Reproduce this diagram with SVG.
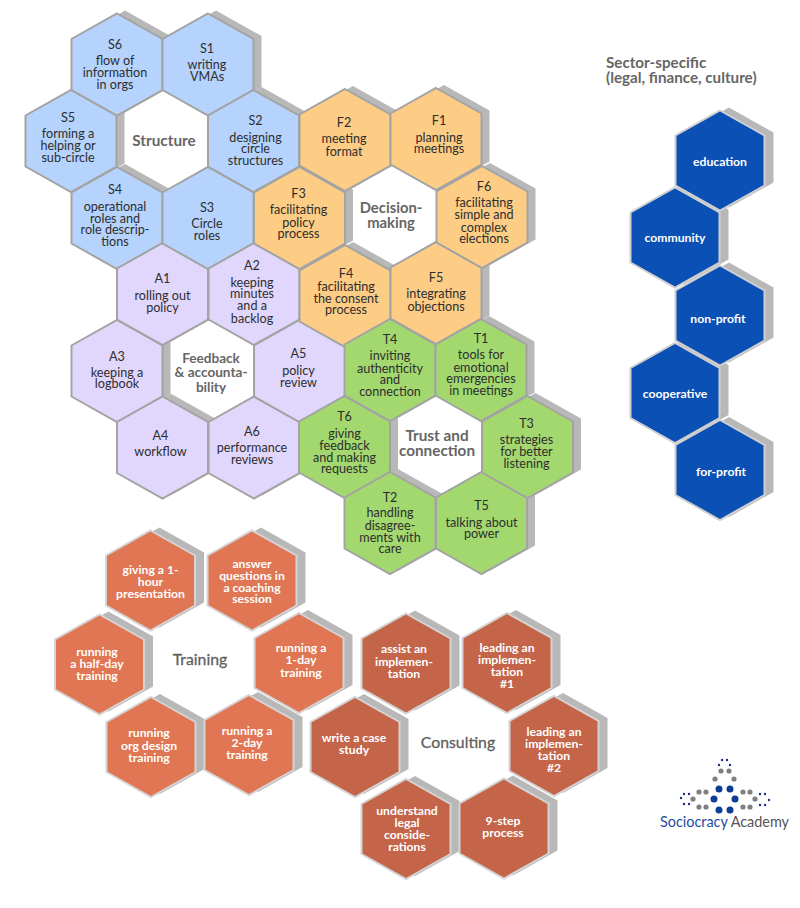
<svg xmlns="http://www.w3.org/2000/svg" width="800" height="908" viewBox="0 0 800 908">
<style>
text{font-family:Lato,"Liberation Sans",sans-serif;text-anchor:middle}
.l{font-size:12.6px;fill:#2e2e2e}
.w{font-size:12.2px;fill:#fff;font-weight:700}
.c{font-size:15.3px;fill:#666;font-weight:700}
.r{font-size:15.8px;fill:#5f5f5f;stroke:#5f5f5f;stroke-width:.3}
.sh{fill:#b8b8b8}
.b{fill:#b5d3fd;stroke:#a3a3a3;stroke-width:2}
.f{fill:#fdcc85;stroke:#a3a3a3;stroke-width:2}
.p{fill:#e1d6fc;stroke:#a3a3a3;stroke-width:2}
.g{fill:#a3d86f;stroke:#a3a3a3;stroke-width:2}
.d{fill:#0b50b4;stroke:#cfcfcf;stroke-width:2}
.t{fill:#e07653;stroke:#d4d4d4;stroke-width:2}
.u{fill:#c4654a;stroke:#d4d4d4;stroke-width:2}
.dg{fill:#808080}.db{fill:#0f3c96}.dn{fill:#1b2f80}
</style>
<defs>
<polygon id="h" points="0,-51 45.5,-25.5 45.5,25.5 0,51 -45.5,25.5 -45.5,-25.5"/>
<polygon id="k" points="0,-50 44.5,-25 44.5,25 0,50 -44.5,25 -44.5,-25"/>
<use id="s" href="#h" class="sh" transform="translate(8,-3)"/>
<use id="q" href="#k" class="sh" transform="translate(9,-3)"/>
</defs>
<g id="S5" transform="translate(71,141)"><use href="#s"/><use href="#h" class="b"/><text class="l" transform="translate(-3,0)"><tspan x="0" y="-19">S5</tspan><tspan x="0" y="-3">forming a</tspan><tspan x="0" y="9">helping or</tspan><tspan x="0" y="21">sub-circle</tspan></text></g>
<g id="S4" transform="translate(117,218)"><use href="#s"/><use href="#h" class="b"/><text class="l" transform="translate(-2,0)"><tspan x="0" y="-24">S4</tspan><tspan x="0" y="-7">operational</tspan><tspan x="0" y="5">roles and</tspan><tspan x="0" y="16">role descrip-</tspan><tspan x="0" y="28">tions</tspan></text></g>
<g id="S6" transform="translate(117,64.5)"><use href="#s"/><use href="#h" class="b"/><text class="l" transform="translate(-2,0)"><tspan x="0" y="-16">S6</tspan><tspan x="0" y="0">flow of</tspan><tspan x="0" y="12.5">information</tspan><tspan x="0" y="24">in orgs</tspan></text></g>
<g id="A3" transform="translate(117,371)"><use href="#s"/><use href="#h" class="p"/><text class="l"><tspan x="0" y="-10">A3</tspan><tspan x="0" y="6">keeping a</tspan><tspan x="0" y="17">logbook</tspan></text></g>
<g id="A4" transform="translate(162.5,447.5)"><use href="#s"/><use href="#h" class="p"/><text class="l" transform="translate(-2,0)"><tspan x="0" y="-8">A4</tspan><tspan x="0" y="8">workflow</tspan></text></g>
<g id="A1" transform="translate(162.5,294)"><use href="#s"/><use href="#h" class="p"/><text class="l"><tspan x="0" y="-11">A1</tspan><tspan x="0" y="6">rolling out</tspan><tspan x="0" y="18">policy</tspan></text></g>
<g id="S3" transform="translate(208,218)"><use href="#s"/><use href="#h" class="b"/><text class="l" transform="translate(-1,0)"><tspan x="0" y="-6">S3</tspan><tspan x="0" y="10">Circle</tspan><tspan x="0" y="22">roles</tspan></text></g>
<g id="S1" transform="translate(208,64.5)"><use href="#s"/><use href="#h" class="b"/><text class="l" transform="translate(-1,0)"><tspan x="0" y="-12">S1</tspan><tspan x="0" y="4">writing</tspan><tspan x="0" y="16">VMAs</tspan></text></g>
<g id="A6" transform="translate(254,447.5)"><use href="#s"/><use href="#h" class="p"/><text class="l" transform="translate(-2,0)"><tspan x="0" y="-12">A6</tspan><tspan x="0" y="4">performance</tspan><tspan x="0" y="16">reviews</tspan></text></g>
<g id="A2" transform="translate(254,294)"><use href="#s"/><use href="#h" class="p"/><text class="l" transform="translate(-2,0)"><tspan x="0" y="-24">A2</tspan><tspan x="0" y="-7">keeping</tspan><tspan x="0" y="4">minutes</tspan><tspan x="0" y="16">and a</tspan><tspan x="0" y="28.5">backlog</tspan></text></g>
<g id="S2" transform="translate(253.5,141)"><use href="#s"/><use href="#h" class="b"/><text class="l" transform="translate(2,0)"><tspan x="0" y="-16">S2</tspan><tspan x="0" y="1">designing</tspan><tspan x="0" y="12">circle</tspan><tspan x="0" y="24">structures</tspan></text></g>
<g id="A5" transform="translate(299.5,371)"><use href="#s"/><use href="#h" class="p"/><text class="l" transform="translate(-1,0)"><tspan x="0" y="-13">A5</tspan><tspan x="0" y="4">policy</tspan><tspan x="0" y="16">review</tspan></text></g>
<g id="F3" transform="translate(299.5,218)"><use href="#s"/><use href="#h" class="f"/><text class="l" transform="translate(-1,0)"><tspan x="0" y="-20">F3</tspan><tspan x="0" y="-4">facilitating</tspan><tspan x="0" y="9">policy</tspan><tspan x="0" y="20">process</tspan></text></g>
<g id="T6" transform="translate(344.5,447)"><use href="#s"/><use href="#h" class="g"/><text class="l"><tspan x="0" y="-26">T6</tspan><tspan x="0" y="-9">giving</tspan><tspan x="0" y="3">feedback</tspan><tspan x="0" y="15">and making</tspan><tspan x="0" y="26">requests</tspan></text></g>
<g id="F4" transform="translate(345,296)"><use href="#s"/><use href="#h" class="f"/><text class="l" transform="translate(1,0)"><tspan x="0" y="-18">F4</tspan><tspan x="0" y="-5">facilitating</tspan><tspan x="0" y="7">the consent</tspan><tspan x="0" y="18">process</tspan></text></g>
<g id="F2" transform="translate(345,140)"><use href="#s"/><use href="#h" class="f"/><text class="l" transform="translate(-1,0)"><tspan x="0" y="-13">F2</tspan><tspan x="0" y="3">meeting</tspan><tspan x="0" y="16">format</tspan></text></g>
<g id="T4" transform="translate(390,370)"><use href="#s"/><use href="#h" class="g"/><text class="l"><tspan x="0" y="-26">T4</tspan><tspan x="0" y="-10">inviting</tspan><tspan x="0" y="3">authenticity</tspan><tspan x="0" y="14">and</tspan><tspan x="0" y="26">connection</tspan></text></g>
<g id="T2" transform="translate(390,523)"><use href="#s"/><use href="#h" class="g"/><text class="l"><tspan x="0" y="-21">T2</tspan><tspan x="0" y="-6">handling</tspan><tspan x="0" y="7">disagree-</tspan><tspan x="0" y="19">ments with</tspan><tspan x="0" y="30">care</tspan></text></g>
<g id="F5" transform="translate(436,293)"><use href="#s"/><use href="#h" class="f"/><text class="l"><tspan x="0" y="-11">F5</tspan><tspan x="0" y="5">integrating</tspan><tspan x="0" y="18">objections</tspan></text></g>
<g id="F1" transform="translate(436,139)"><use href="#s"/><use href="#h" class="f"/><text class="l" transform="translate(3,0)"><tspan x="0" y="-14">F1</tspan><tspan x="0" y="3">planning</tspan><tspan x="0" y="14">meetings</tspan></text></g>
<g id="T1" transform="translate(481,370)"><use href="#s"/><use href="#h" class="g"/><text class="l"><tspan x="0" y="-27">T1</tspan><tspan x="0" y="-11">tools for</tspan><tspan x="0" y="2">emotional</tspan><tspan x="0" y="13">emergencies</tspan><tspan x="0" y="25">in meetings</tspan></text></g>
<g id="T5" transform="translate(481.5,523)"><use href="#s"/><use href="#h" class="g"/><text class="l"><tspan x="0" y="-13">T5</tspan><tspan x="0" y="4">talking about</tspan><tspan x="0" y="15">power</tspan></text></g>
<g id="F6" transform="translate(482,217)"><use href="#s"/><use href="#h" class="f"/><text class="l" transform="translate(2,0)"><tspan x="0" y="-26">F6</tspan><tspan x="0" y="-10">facilitating</tspan><tspan x="0" y="2">simple and</tspan><tspan x="0" y="15">complex</tspan><tspan x="0" y="26">elections</tspan></text></g>
<g id="T3" transform="translate(527.5,447)"><use href="#s"/><use href="#h" class="g"/><text class="l" transform="translate(-1,0)"><tspan x="0" y="-19">T3</tspan><tspan x="0" y="-3">strategies</tspan><tspan x="0" y="9">for better</tspan><tspan x="0" y="21">listening</tspan></text></g>
<g id="structure"><text class="c" x="164" y="146">Structure</text></g>
<g id="decision"><text class="c" style="font-size:14.8px"><tspan x="391" y="213">Decision-</tspan><tspan x="391" y="228">making</tspan></text></g>
<g id="feedback"><text class="c" style="font-size:13.6px"><tspan x="211" y="363">Feedback</tspan><tspan x="211" y="377">&amp; accounta-</tspan><tspan x="211" y="392">bility</tspan></text></g>
<g id="trust"><text class="c"><tspan x="437" y="441">Trust and</tspan><tspan x="437" y="456">connection</tspan></text></g>
<g id="sector"><text class="c" style="text-anchor:start;font-size:15.2px"><tspan x="606" y="68">Sector-specific</tspan><tspan x="606" y="83">(legal, finance, culture)</tspan></text></g>
<g id="community" transform="translate(675,237.5)"><use href="#q"/><use href="#k" class="d"/><text class="w" y="4.5">community</text></g>
<g id="cooperative" transform="translate(675,393)"><use href="#q"/><use href="#k" class="d"/><text class="w" y="5">cooperative</text></g>
<g id="education" transform="translate(720,160.5)"><use href="#q"/><use href="#k" class="d"/><text class="w" y="5">education</text></g>
<g id="non-profit" transform="translate(720,315.5)"><use href="#q"/><use href="#k" class="d"/><text class="w" x="-2" y="7.5">non-profit</text></g>
<g id="for-profit" transform="translate(720,470)"><use href="#q"/><use href="#k" class="d"/><text class="w" x="1" y="6">for-profit</text></g>
<g id="half-day" transform="translate(99.5,664.5)"><use href="#q"/><use href="#k" class="t"/><text class="w" transform="translate(-2.5,0)"><tspan x="0" y="-8.5">running</tspan><tspan x="0" y="3.5">a half-day</tspan><tspan x="0" y="15.5">training</tspan></text></g>
<g id="presentation" transform="translate(150.5,580.5)"><use href="#q"/><use href="#k" class="t"/><text class="w"><tspan x="0" y="-6.5">giving a 1-</tspan><tspan x="0" y="5.5">hour</tspan><tspan x="0" y="17.5">presentation</tspan></text></g>
<g id="org-design" transform="translate(151,747)"><use href="#q"/><use href="#k" class="t"/><text class="w" transform="translate(-2,0)"><tspan x="0" y="-10">running</tspan><tspan x="0" y="3">org design</tspan><tspan x="0" y="15">training</tspan></text></g>
<g id="two-day" transform="translate(249,745)"><use href="#q"/><use href="#k" class="t"/><text class="w" transform="translate(-2,0)"><tspan x="0" y="-10">running a</tspan><tspan x="0" y="2">2-day</tspan><tspan x="0" y="14">training</tspan></text></g>
<g id="coaching" transform="translate(252,580.5)"><use href="#q"/><use href="#k" class="t"/><text class="w"><tspan x="0" y="-12.5">answer</tspan><tspan x="0" y="-0.5">questions in</tspan><tspan x="0" y="11.5">a coaching</tspan><tspan x="0" y="22.5">session</tspan></text></g>
<g id="one-day" transform="translate(299,663)"><use href="#q"/><use href="#k" class="t"/><text class="w" transform="translate(2,0)"><tspan x="0" y="-11">running a</tspan><tspan x="0" y="1">1-day</tspan><tspan x="0" y="14">training</tspan></text></g>
<g id="training"><text class="r" x="200" y="665">Training</text></g>
<g id="case-study" transform="translate(355,747)"><use href="#q"/><use href="#k" class="u"/><text class="w" transform="translate(-1,0)"><tspan x="0" y="-5">write a case</tspan><tspan x="0" y="7">study</tspan></text></g>
<g id="assist" transform="translate(406,663.5)"><use href="#q"/><use href="#k" class="u"/><text class="w" transform="translate(-2,0)"><tspan x="0" y="-10.5">assist an</tspan><tspan x="0" y="2.5">implemen-</tspan><tspan x="0" y="14.5">tation</tspan></text></g>
<g id="legal" transform="translate(406,829)"><use href="#q"/><use href="#k" class="u"/><text class="w" transform="translate(1,0)"><tspan x="0" y="-14">understand</tspan><tspan x="0" y="-2">legal</tspan><tspan x="0" y="10">conside-</tspan><tspan x="0" y="22">rations</tspan></text></g>
<g id="lead1" transform="translate(507,663)"><use href="#q"/><use href="#k" class="u"/><text class="w"><tspan x="0" y="-11">leading an</tspan><tspan x="0" y="1">implemen-</tspan><tspan x="0" y="13">tation</tspan><tspan x="0" y="25">#1</tspan></text></g>
<g id="nine-step" transform="translate(504,828.5)"><use href="#q"/><use href="#k" class="u"/><text class="w" transform="translate(-1,0)"><tspan x="0" y="-3.5">9-step</tspan><tspan x="0" y="8.5">process</tspan></text></g>
<g id="lead2" transform="translate(554,746)"><use href="#q"/><use href="#k" class="u"/><text class="w"><tspan x="0" y="-10">leading an</tspan><tspan x="0" y="2">implemen-</tspan><tspan x="0" y="14">tation</tspan><tspan x="0" y="26">#2</tspan></text></g>
<g id="consulting"><text class="r" x="458" y="748">Consulting</text></g>
<g id="logo">
<g class="dn"><circle cx="722" cy="760" r="1.2"/><circle cx="727" cy="760" r="1.2"/><circle cx="719" cy="765" r="1.2"/><circle cx="730" cy="765" r="1.2"/><circle cx="684" cy="794" r="1.2"/><circle cx="689" cy="794" r="1.2"/><circle cx="681" cy="798" r="1.2"/><circle cx="684" cy="804" r="1.2"/><circle cx="689" cy="804" r="1.2"/><circle cx="760" cy="794" r="1.2"/><circle cx="765" cy="794" r="1.2"/><circle cx="769" cy="800" r="1.2"/><circle cx="760" cy="805" r="1.2"/><circle cx="765" cy="805" r="1.2"/></g>
<g class="dg"><circle cx="721" cy="771" r="2.6"/><circle cx="729" cy="771" r="2.6"/><circle cx="715" cy="779" r="2.6"/><circle cx="734" cy="779" r="2.6"/><circle cx="699" cy="792" r="2.6"/><circle cx="706" cy="792" r="2.6"/><circle cx="743" cy="792" r="2.6"/><circle cx="750" cy="792" r="2.6"/><circle cx="693" cy="799" r="2.6"/><circle cx="755" cy="799" r="2.6"/><circle cx="699" cy="807" r="2.6"/><circle cx="706" cy="807" r="2.6"/><circle cx="743" cy="807" r="2.6"/><circle cx="750" cy="807" r="2.6"/></g>
<g class="db"><circle cx="719" cy="789" r="3.5"/><circle cx="730" cy="789" r="3.5"/><circle cx="714" cy="799" r="3.5"/><circle cx="735" cy="799" r="3.5"/><circle cx="719" cy="810" r="3.5"/><circle cx="730" cy="810" r="3.5"/></g>
<text x="660" y="827" style="text-anchor:start;font-size:14.4px;fill:#555"><tspan fill="#1f4c9e">Sociocracy</tspan> Academy</text>
</g>
</svg>
